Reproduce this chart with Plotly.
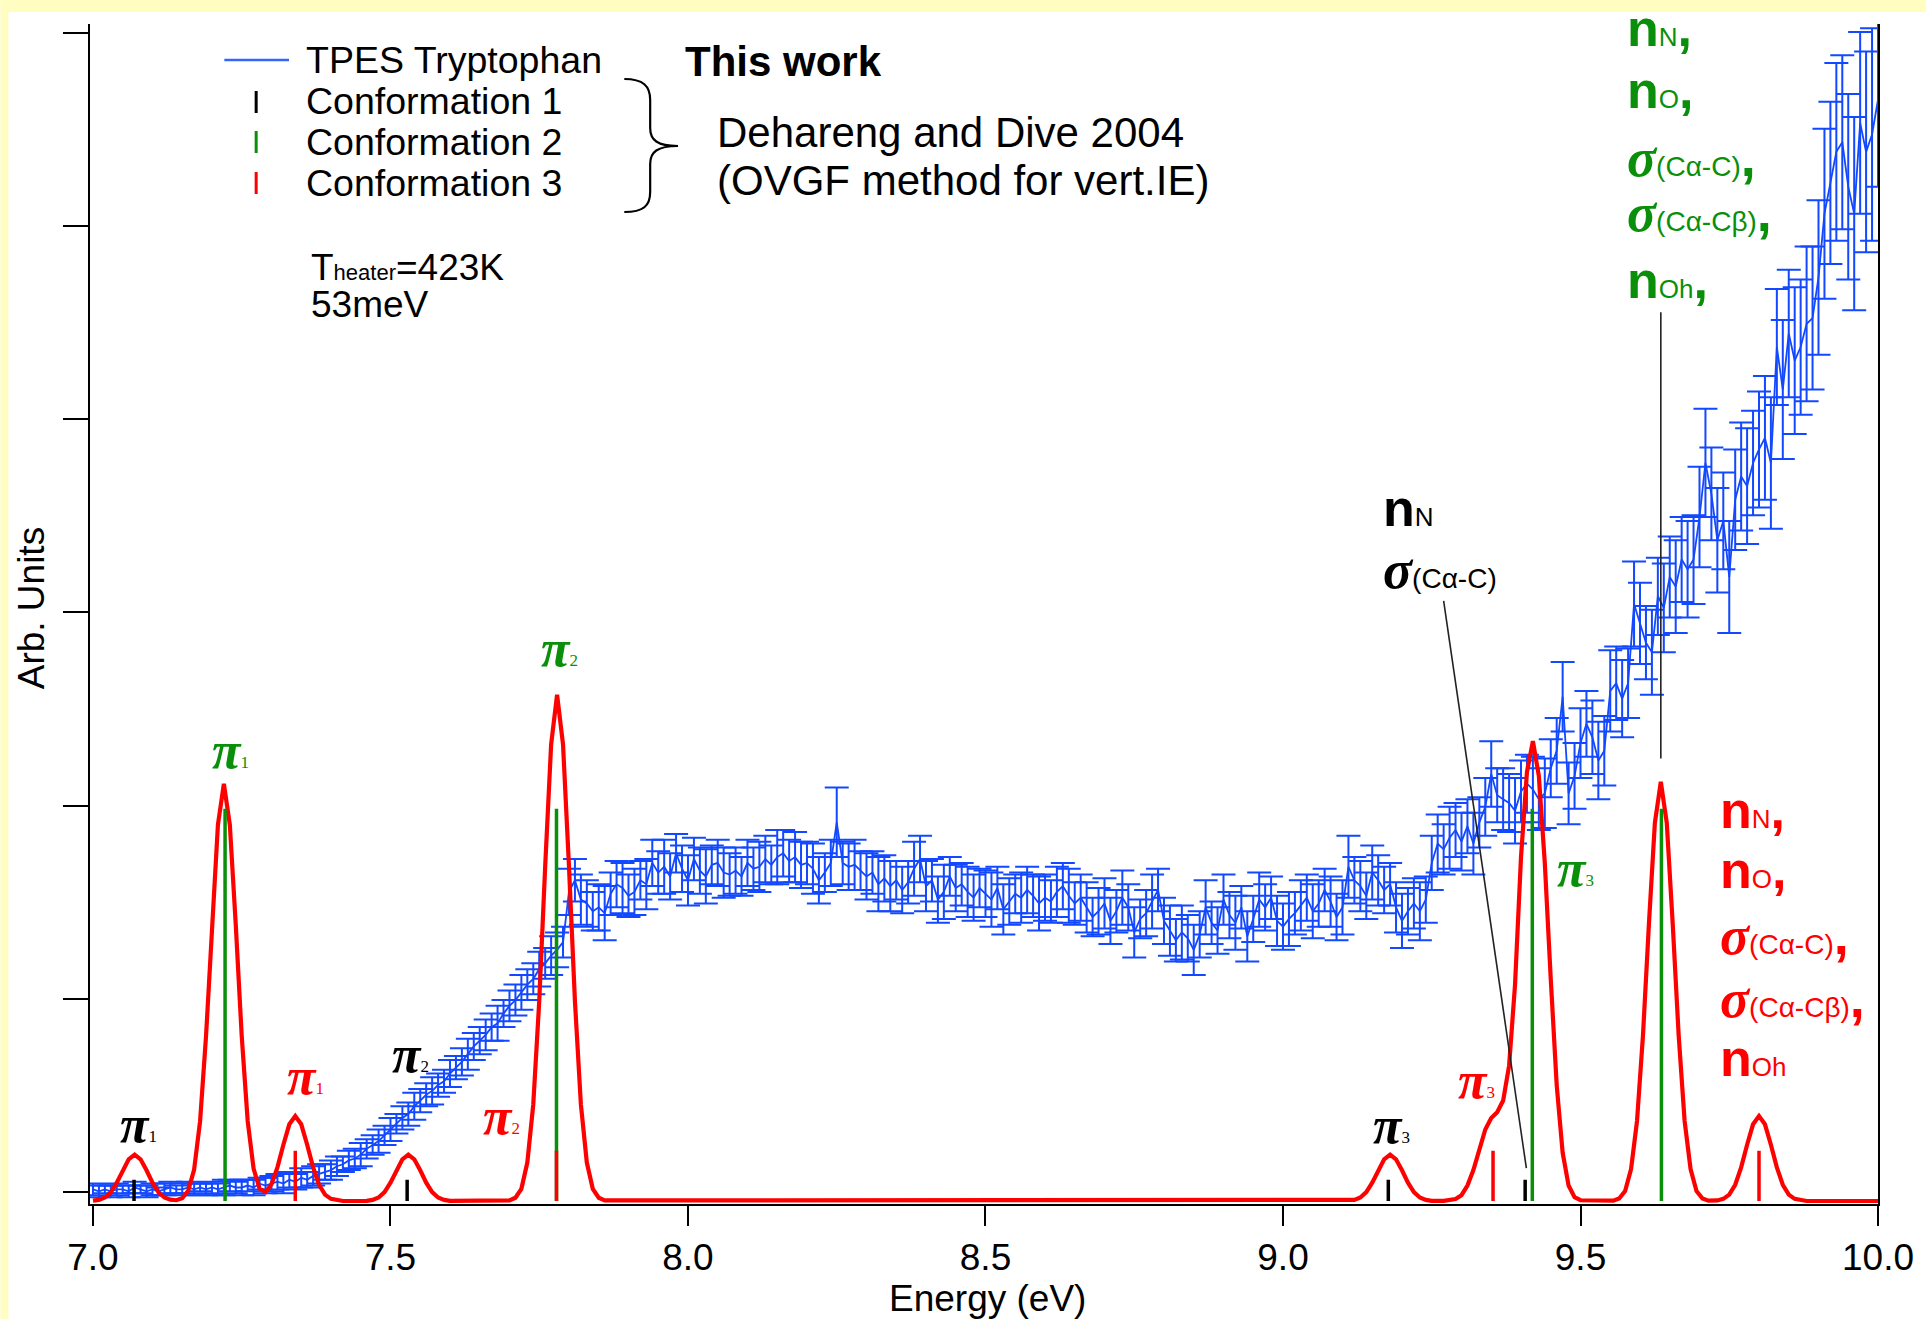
import plotly.graph_objects as go

# ---------------- data ----------------
ENERGY_START = 7.00
ENERGY_STEP = 0.01

# TPES Tryptophan (blue), one value per 0.01 eV from 7.00 to 10.00 eV
tpes_signal = [
    0.06, 0.05, 0.06, 0.05, 0.06, 0.06, 0.05, 0.07, 0.06, 0.05,
    0.06, 0.05, 0.06, 0.07, 0.06, 0.06, 0.07, 0.06, 0.07, 0.06,
    0.07, 0.06, 0.07, 0.08, 0.07, 0.07, 0.08, 0.07, 0.09, 0.08,
    0.09, 0.10, 0.09, 0.11, 0.10, 0.12, 0.11, 0.13, 0.14, 0.15,
    0.16, 0.18, 0.19, 0.21, 0.22, 0.24, 0.27, 0.29, 0.31, 0.34,
    0.37, 0.40, 0.43, 0.45, 0.49, 0.52, 0.55, 0.57, 0.60, 0.62,
    0.66, 0.69, 0.72, 0.76, 0.80, 0.83, 0.86, 0.90, 0.92, 0.97,
    1.01, 1.04, 1.08, 1.12, 1.15, 1.20, 1.23, 1.27, 1.30, 1.34,
    1.60, 1.66, 1.56, 1.54, 1.50, 1.52, 1.49, 1.59, 1.64, 1.62,
    1.58, 1.60, 1.66, 1.64, 1.75, 1.70, 1.73, 1.68, 1.80, 1.72,
    1.66, 1.77, 1.71, 1.68, 1.74, 1.75, 1.70, 1.69, 1.71, 1.68,
    1.75, 1.72, 1.73, 1.77, 1.74, 1.78, 1.80, 1.76, 1.78, 1.74,
    1.75, 1.72, 1.66, 1.70, 1.75, 1.96, 1.75, 1.73, 1.74, 1.71,
    1.68, 1.70, 1.64, 1.67, 1.63, 1.66, 1.61, 1.65, 1.72, 1.77,
    1.63, 1.66, 1.56, 1.60, 1.68, 1.62, 1.64, 1.60, 1.57, 1.62,
    1.59, 1.56, 1.62, 1.51, 1.55, 1.59, 1.57, 1.61, 1.58, 1.54,
    1.57, 1.55, 1.60, 1.63, 1.58, 1.54, 1.57, 1.52, 1.47, 1.50,
    1.54, 1.45, 1.50, 1.57, 1.52, 1.39, 1.46, 1.49, 1.55, 1.61,
    1.45, 1.40, 1.35, 1.39, 1.36, 1.30, 1.38, 1.52, 1.44, 1.40,
    1.56, 1.48, 1.44, 1.52, 1.37, 1.46, 1.56, 1.52, 1.57, 1.45,
    1.42, 1.46, 1.49, 1.53, 1.57, 1.50, 1.54, 1.61, 1.55, 1.47,
    1.52, 1.73, 1.66, 1.63, 1.58, 1.70, 1.66, 1.61, 1.64, 1.52,
    1.45, 1.50, 1.54, 1.50, 1.56, 1.75, 1.85, 1.82, 1.88, 1.92,
    1.86, 1.94, 1.85, 1.96, 2.04, 2.21, 2.10, 2.08, 2.06, 2.02,
    2.12, 2.16, 2.13, 2.08, 2.11, 2.24, 2.33, 2.61, 2.11, 2.20,
    2.37, 2.47, 2.40, 2.28, 2.33, 2.64, 2.68, 2.60, 2.68, 3.09,
    2.99, 2.89, 2.84, 3.13, 3.07, 3.23, 3.18, 3.32, 3.27, 3.32,
    3.54, 3.82, 3.66, 3.42, 3.52, 3.23, 3.63, 3.75, 3.70, 3.82,
    3.89, 3.95, 3.82, 4.42, 4.20, 4.49, 4.35, 4.42, 4.54, 4.57,
    4.78, 5.11, 5.27, 5.43, 5.48, 5.25, 5.11, 5.58, 5.43, 5.52,
    5.70,
]

tpes_error = [
    .03, .03, .02, .03, .03, .02, .03, .03, .02, .03,
    .03, .02, .03, .03, .02, .03, .03, .03, .02, .03,
    .03, .03, .04, .03, .03, .04, .03, .04, .03, .04,
    .04, .04, .05, .04, .04, .05, .04, .05, .05, .04,
    .05, .05, .04, .05, .05, .06, .05, .05, .06, .05,
    .06, .05, .06, .06, .07, .06, .06, .07, .06, .06,
    .07, .06, .07, .08, .07, .07, .08, .07, .09, .07,
    .08, .08, .09, .08, .08, .09, .08, .10, .09, .08,
    .12, .11, .13, .12, .10, .12, .14, .11, .12, .13,
    .11, .12, .10, .13, .12, .11, .14, .12, .10, .12,
    .13, .11, .12, .14, .10, .12, .13, .11, .12, .10,
    .12, .11, .13, .12, .10, .14, .12, .11, .13, .12,
    .11, .13, .12, .10, .12, .18, .11, .12, .13, .10,
    .12, .11, .14, .12, .13, .10, .12, .11, .14, .12,
    .13, .11, .12, .14, .10, .12, .11, .13, .12, .10,
    .12, .14, .11, .13, .12, .10, .13, .12, .11, .14,
    .12, .11, .13, .12, .14, .11, .12, .13, .10, .12,
    .13, .12, .11, .14, .12, .13, .10, .12, .14, .11,
    .12, .13, .11, .14, .12, .13, .12, .14, .11, .12,
    .13, .12, .14, .11, .13, .12, .14, .12, .11, .13,
    .12, .14, .11, .13, .12, .14, .12, .11, .13, .12,
    .14, .16, .12, .13, .12, .14, .13, .12, .11, .13,
    .14, .12, .13, .15, .12, .14, .15, .13, .16, .14,
    .15, .14, .16, .13, .15, .17, .14, .16, .15, .17,
    .16, .15, .17, .16, .18, .15, .17, .18, .16, .17,
    .18, .17, .19, .20, .18, .21, .19, .20, .18, .22,
    .21, .19, .22, .20, .23, .21, .24, .22, .25, .23,
    .26, .28, .24, .27, .25, .29, .26, .28, .30, .27,
    .30, .32, .34, .30, .36, .33, .38, .35, .40, .37,
    .40, .44, .42, .46, .45, .48, .50, .47, .52, .55,
    .45,
]

# Simulated spectrum (red curve)
red_energy = [
    7.00, 7.01, 7.02, 7.03, 7.04, 7.05, 7.06, 7.07, 7.08, 7.09,
    7.10, 7.11, 7.12, 7.13, 7.14, 7.15, 7.16, 7.17, 7.18, 7.19,
    7.20, 7.21, 7.22, 7.23, 7.24, 7.25, 7.26, 7.27, 7.28, 7.29,
    7.30, 7.31, 7.32, 7.33, 7.34, 7.35, 7.36, 7.37, 7.38, 7.39,
    7.40, 7.41, 7.42,
    7.46, 7.47, 7.48, 7.49, 7.50, 7.51, 7.52, 7.53, 7.54, 7.55,
    7.56, 7.57, 7.58, 7.59, 7.60,
    7.70, 7.71, 7.72, 7.73, 7.74, 7.75, 7.76, 7.77, 7.78, 7.79,
    7.80, 7.81, 7.82, 7.83, 7.84, 7.85, 7.86,
    9.11, 9.12, 9.13, 9.14, 9.15, 9.16, 9.17, 9.18, 9.19, 9.20,
    9.21, 9.22, 9.23, 9.24, 9.25,
    9.27, 9.28, 9.29, 9.30, 9.31, 9.32, 9.33, 9.34, 9.35, 9.36,
    9.37, 9.38, 9.39, 9.40, 9.41, 9.42, 9.43, 9.44, 9.45, 9.46,
    9.47, 9.48, 9.49, 9.50,
    9.555, 9.565, 9.575, 9.585, 9.595, 9.605, 9.615, 9.625, 9.635,
    9.645, 9.655, 9.665, 9.675, 9.685, 9.695, 9.705, 9.715,
    9.72, 9.73, 9.74, 9.75, 9.76, 9.77, 9.78, 9.79, 9.80, 9.81,
    9.82, 9.83, 9.84, 9.85, 9.86, 9.87, 9.88,
    10.00,
]
red_signal = [
    0.002, 0.006, 0.018, 0.046, 0.095, 0.159, 0.216, 0.240, 0.216, 0.159,
    0.095, 0.046, 0.018, 0.007, 0.004, 0.014, 0.053, 0.163, 0.413, 0.853,
    1.428, 1.948, 2.160, 1.948, 1.428, 0.853, 0.414, 0.166, 0.064, 0.047,
    0.087, 0.174, 0.291, 0.397, 0.440, 0.397, 0.291, 0.174, 0.084, 0.033,
    0.011, 0.003, 0.000,
    0.001, 0.006, 0.018, 0.046, 0.095, 0.159, 0.216, 0.240, 0.216, 0.159,
    0.095, 0.046, 0.018, 0.006, 0.001,
    0.003, 0.017, 0.063, 0.199, 0.500, 1.035, 1.732, 2.363, 2.620, 2.363,
    1.732, 1.035, 0.500, 0.199, 0.063, 0.017, 0.003,
    0.001, 0.006, 0.018, 0.046, 0.095, 0.159, 0.216, 0.240, 0.216, 0.159,
    0.095, 0.046, 0.018, 0.006, 0.001,
    0.001, 0.003, 0.010, 0.030, 0.080, 0.160, 0.270, 0.370, 0.430, 0.460,
    0.520, 0.700, 1.120, 1.780, 2.220, 2.380, 2.200, 1.750, 1.150, 0.600,
    0.250, 0.080, 0.020, 0.004,
    0.002, 0.013, 0.052, 0.165, 0.414, 0.857, 1.434, 1.957, 2.170,
    1.957, 1.434, 0.857, 0.414, 0.165, 0.052, 0.013, 0.002,
    0.001, 0.003, 0.011, 0.033, 0.084, 0.174, 0.291, 0.397, 0.440, 0.397,
    0.291, 0.174, 0.084, 0.033, 0.011, 0.003, 0.000,
    0.000,
]

# Dehareng and Dive 2004 vertical IEs (stick positions / heights)
conf1_energy = [7.069, 7.528, 9.177, 9.407]
conf1_height = [0.11, 0.11, 0.11, 0.11]
conf2_energy = [7.222, 7.779, 9.419, 9.636]
conf2_height = [2.03, 2.03, 2.03, 2.03]
conf3_energy = [7.340, 7.779, 9.353, 9.800]
conf3_height = [0.26, 0.26, 0.26, 0.26]

x_tick_values = [7.0, 7.5, 8.0, 8.5, 9.0, 9.5, 10.0]
x_tick_labels = ["7.0", "7.5", "8.0", "8.5", "9.0", "9.5", "10.0"]
y_tick_values = [0.047, 1.047, 2.047, 3.047, 4.047, 5.047, 6.047]

# ---------------- styling ----------------
SANS = "Liberation Sans, Arial, sans-serif"
SERIF = "Liberation Serif, Times New Roman, serif"
BLUE = "#1248FF"
RED = "#FF0000"
GREEN = "#0A8F0A"
BLACK = "#000000"
YELLOW = "#FFFDC0"

W, H = 1926, 1319
PL, PR, PT, PB = 90, 1887, 24, 1204  # plot area in pixels


def px(x):
    return (x - PL) / (PR - PL)


def py(y):
    return (PB - y) / (PB - PT)


def sticks(xs, hs):
    X, Y = [], []
    for x, h in zip(xs, hs):
        X += [x, x, None]
        Y += [0, h, None]
    return X, Y


tpes_energy = [round(ENERGY_START + i * ENERGY_STEP, 2) for i in range(len(tpes_signal))]

fig = go.Figure()

fig.add_trace(go.Scatter(
    x=tpes_energy, y=tpes_signal, mode="lines", name="TPES Tryptophan",
    line=dict(color=BLUE, width=1.8),
    error_y=dict(type="data", array=tpes_error, visible=True,
                 color=BLUE, thickness=2, width=12),
))
fig.add_trace(go.Scatter(
    x=red_energy, y=red_signal, mode="lines", name="Simulated",
    line=dict(color=RED, width=4.2),
))
for xs, hs, col, nm in [(conf2_energy, conf2_height, GREEN, "Conformation 2"),
                        (conf1_energy, conf1_height, BLACK, "Conformation 1"),
                        (conf3_energy, conf3_height, RED, "Conformation 3")]:
    X, Y = sticks(xs, hs)
    fig.add_trace(go.Scatter(x=X, y=Y, mode="lines", name=nm,
                             line=dict(color=col, width=3.5)))

shapes = []
# slide background strips
shapes.append(dict(type="rect", xref="paper", yref="paper", x0=px(0), x1=px(W + 20),
                   y0=py(0), y1=py(12), fillcolor=YELLOW, line=dict(width=0), layer="below"))
shapes.append(dict(type="rect", xref="paper", yref="paper", x0=px(0), x1=px(8),
                   y0=py(0), y1=py(H), fillcolor=YELLOW, line=dict(width=0), layer="below"))

# leader lines (data coordinates)
shapes.append(dict(type="line", xref="x", yref="y", x0=9.270, y0=3.106, x1=9.409, y1=0.17,
                   line=dict(color="#222222", width=1.6)))
shapes.append(dict(type="line", xref="x", yref="y", x0=9.635, y0=4.60, x1=9.635, y1=2.29,
                   line=dict(color="#222222", width=1.6)))

# legend symbols
shapes.append(dict(type="line", xref="paper", yref="paper", x0=px(225), x1=px(290),
                   y0=py(60), y1=py(60), line=dict(color="#3366FF", width=2.5)))
for yc, col in [(102, BLACK), (142, GREEN), (183, RED)]:
    shapes.append(dict(type="line", xref="paper", yref="paper", x0=px(257), x1=px(257),
                       y0=py(yc - 11), y1=py(yc + 11), line=dict(color=col, width=3)))

# curly brace
brace_pts = [("M", [(627, 79)]),
             ("C", [(646, 79), (653, 86), (653, 100)]),
             ("L", [(653, 128)]),
             ("C", [(653, 140), (660, 146), (681, 146)]),
             ("C", [(660, 146), (653, 152), (653, 164)]),
             ("L", [(653, 192)]),
             ("C", [(653, 206), (646, 212), (627, 212)])]
path = ""
for cmd, pts in brace_pts:
    path += cmd + " " + " ".join(f"{px(a):.5f},{py(b):.5f}" for a, b in pts) + " "
shapes.append(dict(type="path", xref="paper", yref="paper", path=path.strip(),
                   line=dict(color=BLACK, width=2.2)))

annotations = []


def ann(text, X, Y, size, color=BLACK, family=SANS, xanchor="left", yanchor="middle", angle=0):
    annotations.append(dict(text=text, x=px(X), y=py(Y), xref="paper", yref="paper",
                            showarrow=False, xanchor=xanchor, yanchor=yanchor,
                            textangle=angle,
                            font=dict(size=size, color=color, family=family)))


# axis titles
ann("Energy (eV)", 992, 1298, 37, xanchor="center")
ann("Arb. Units", 31, 608, 37, xanchor="center", angle=-90)

# legend text
ann("TPES Tryptophan", 305, 60, 37.5)
ann("Conformation 1", 305, 101, 37.5)
ann("Conformation 2", 305, 142, 37.5)
ann("Conformation 3", 305, 183, 37.5)
ann("<b>This work</b>", 686, 61, 42)
ann("Dehareng and Dive 2004", 718, 132, 42)
ann("(OVGF method for vert.IE)", 718, 180, 42)
ann('T<span style="font-size:22px">heater</span>=423K', 310, 267, 37)
ann("53meV", 310, 305, 37)


# pi labels
def pi_label(idx, X, Y, color):
    ann(f'<b><i>π</i></b><span style="font-size:17px">{idx}</span>', X, Y, 52,
        color=color, family=SERIF, xanchor="center")


pi_label(1, 139, 1124, BLACK)
pi_label(1, 231, 750, GREEN)
pi_label(1, 307, 1076, RED)
pi_label(2, 412, 1054, BLACK)
pi_label(2, 504, 1116, RED)
pi_label(2, 562, 648, GREEN)
pi_label(3, 1398, 1125, BLACK)
pi_label(3, 1483, 1080, RED)
pi_label(3, 1583, 868, GREEN)

SIG = f'<span style="font-family:{SERIF}"><b><i>σ</i></b></span>'


def n_text(sub, comma=True):
    return f'<b>n</b><span style="font-size:26px">{sub}</span>' + ("<b>,</b>" if comma else "")


def s_text(sub, comma=True):
    return SIG + f'<span style="font-size:28px">{sub}</span>' + ("<b>,</b>" if comma else "")


# black labels
ann(n_text("N", False), 1388, 508, 52)
ann(s_text("(Cα-C)", False), 1388, 570, 54)

# green labels
gx = 1633
for yy, t in [(28, n_text("N")), (90, n_text("O")), (157, s_text("(Cα-C)")),
              (213, s_text("(Cα-Cβ)")), (280, n_text("Oh"))]:
    ann(t, gx, yy, 52 if t.startswith("<b>n") else 54, color=GREEN)

# red labels
rx = 1726
for yy, t in [(810, n_text("N")), (870, n_text("O")), (935, s_text("(Cα-C)")),
              (998, s_text("(Cα-Cβ)")), (1058, n_text("Oh", False))]:
    ann(t, rx, yy, 52 if t.startswith("<b>n") else 54, color=RED)

fig.update_layout(
    width=W, height=H, autosize=False,
    margin=dict(l=PL, r=W - PR, t=PT, b=H - PB, pad=0),
    paper_bgcolor="white", plot_bgcolor="white",
    showlegend=False,
    font=dict(family=SANS, size=37, color=BLACK),
    shapes=shapes, annotations=annotations,
    xaxis=dict(range=[6.995, 10.0], tickmode="array", tickvals=x_tick_values,
               ticktext=x_tick_labels, ticks="outside", ticklen=20, tickwidth=2,
               tickcolor=BLACK, showline=True, linecolor=BLACK, linewidth=2,
               showgrid=False, zeroline=False,
               tickfont=dict(family=SANS, size=37, color=BLACK)),
    yaxis=dict(range=[-0.0155, 6.092], tickmode="array", tickvals=y_tick_values,
               showticklabels=False, ticks="outside", ticklen=25, tickwidth=2,
               tickcolor=BLACK, showline=True, mirror=True, linecolor=BLACK,
               linewidth=2, showgrid=False, zeroline=False),
)

fig.write_html("out.html")
